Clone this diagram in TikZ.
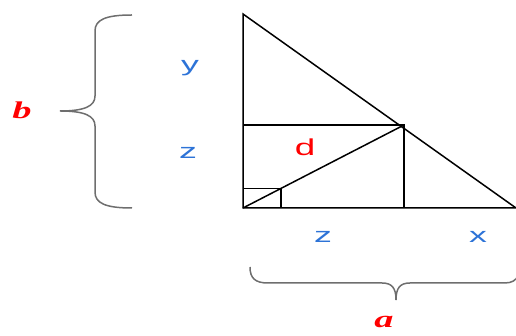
\documentclass[tikz,border=0pt]{standalone}
\usepackage{fontspec}
\setmainfont{Liberation Sans}
\newfontfamily\serifit{Liberation Serif}
\usepackage{tikz}
\usetikzlibrary{calc}
\definecolor{labelblue}{RGB}{45,115,215}
\definecolor{bracegray}{RGB}{110,110,110}

\tikzset{
  edge/.style={line width=1.5pt, black},
  bracepath/.style={line width=1.5pt, bracegray},
  side/.style={text=labelblue, font=\fontsize{21}{24}\selectfont, xscale=1.7, transform shape, inner sep=0pt},
  seg/.style={text=red, font=\fontsize{23}{26}\selectfont, xscale=1.6, transform shape, inner sep=0pt},
  whole/.style={text=red, font=\serifit\bfseries\itshape\fontsize{24}{28}\selectfont, xscale=1.6, transform shape, inner sep=0pt}
}

\begin{document}
\begin{tikzpicture}[x=1pt, y=1pt]
    \useasboundingbox (0,0) rectangle (516,336);
    % corners of the triangle
    \coordinate (T) at (243,322);
    \coordinate (O) at (243,128);
    \coordinate (R) at (516,128);
    \coordinate (P) at (404,211);
    \coordinate (Pl) at (243,211);
    \coordinate (Pb) at (404,128);
    \coordinate (S) at ($(O)!0.236!(P)$);
    \coordinate (Sl) at (O |- S);
    \coordinate (Sb) at (S |- O);

    \draw[edge] (T) -- (O) -- (R) -- cycle;
    \draw[edge] (Pl) -- (P) -- (Pb);
    \draw[edge] (O) -- (P);
    \draw[edge] (Sl) -- (S) -- (Sb);

    % braces
    \draw[bracepath] (132,321) .. controls (105,321) and (95,316) .. (95,305)
        -- (95,240) .. controls (95,230) and (85,225) .. (60,225)
        .. controls (85,225) and (95,220) .. (95,210)
        -- (95,144) .. controls (95,133) and (105,128) .. (132,128);
    \draw[bracepath] (250,69) .. controls (250,58) and (255,53) .. (268,53)
        -- (382,53) .. controls (392,53) and (396,48) .. (396,36)
        .. controls (396,48) and (400,53) .. (410,53)
        -- (505,53) .. controls (512,53) and (516,56) .. (518,60);

    % labels
    \node[side] (ly) at (190,268) {y};
    \node[side] (lz) at (188,183) {z};
    \node[side] (bz) at (323,99) {z};
    \node[side] (bx) at (478,99) {x};
    \node[seg] (ld) at (305,189) {d};
    \node[whole] (lb) at (22,226) {b};
    \node[whole] (la) at (384,14) {a};
\end{tikzpicture}
\end{document}
